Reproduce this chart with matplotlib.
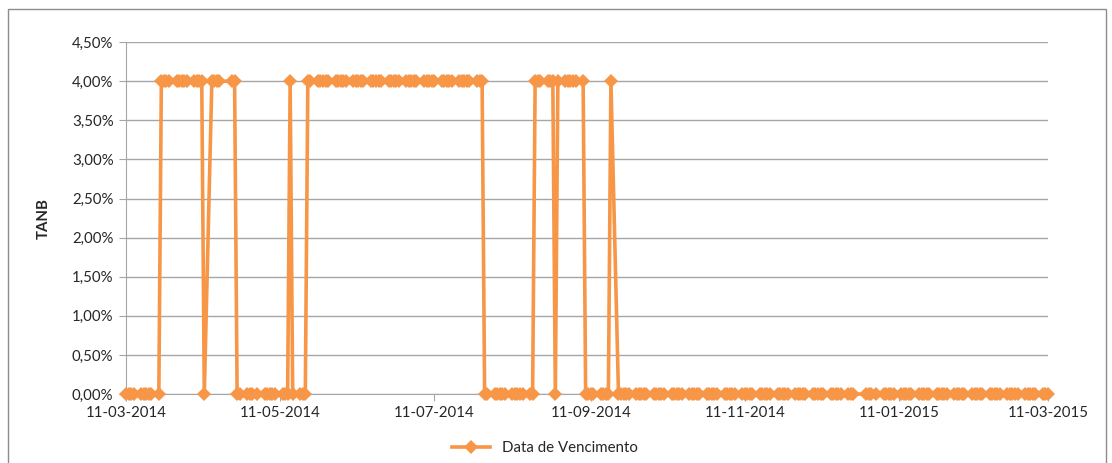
import matplotlib as mpl
mpl.use('Agg')
import matplotlib.pyplot as plt
import matplotlib.dates as mdates
from matplotlib.ticker import FuncFormatter, MultipleLocator
from matplotlib.patches import Rectangle
import pandas as pd

# periodo observado (dias uteis) e feriados sem registo
start_date = "2014-03-11"
end_date = "2015-03-11"
holidays = ["2014-04-18", "2014-04-21", "2014-05-01",
            "2014-12-25", "2014-12-26", "2015-01-01"]

# periodos em que a TANB era 4% (resto: 0%)
high_starts = ["2014-03-25", "2014-04-14", "2014-05-15", "2014-05-22",
               "2014-08-20", "2014-08-29", "2014-09-19"]
high_ends = ["2014-04-10", "2014-04-23", "2014-05-15", "2014-07-30",
             "2014-08-27", "2014-09-08", "2014-09-19"]
high_rate = 0.04
low_rate = 0.0

tick_dates = ["2014-03-11", "2014-05-11", "2014-07-11", "2014-09-11",
              "2014-11-11", "2015-01-11", "2015-03-11"]

dates = pd.bdate_range(start_date, end_date)
dates = dates[~dates.isin(pd.to_datetime(holidays))]
tanb = pd.Series(low_rate, index=dates)
for s, e in zip(high_starts, high_ends):
    tanb[s:e] = high_rate

plt.rcParams['font.family'] = ['Lato', 'DejaVu Sans']
orange = '#F79646'
grid_c = '#A6A6A6'
txt_c = '#262626'

fig = plt.figure(figsize=(11.12, 4.63), dpi=100)
ax = fig.add_axes([0.1133, 0.149, 0.829, 0.760])

ax.plot(tanb.index, tanb.values, color=orange, lw=2.6, marker='D',
        markersize=7.3, markeredgewidth=0, label='Data de Vencimento',
        clip_on=False, zorder=3)

ax.set_xlim(pd.Timestamp(start_date), pd.Timestamp(end_date))
ax.set_ylim(0, 0.045)
ax.yaxis.set_major_locator(MultipleLocator(0.005))
ax.yaxis.set_major_formatter(FuncFormatter(lambda v, p: f"{v*100:.2f}%".replace('.', ',')))
ax.set_xticks(pd.to_datetime(tick_dates))
ax.xaxis.set_major_formatter(mdates.DateFormatter('%d-%m-%Y'))

ax.grid(axis='y', color=grid_c, lw=1)
ax.set_axisbelow(True)
for sp in ['top', 'right']:
    ax.spines[sp].set_visible(False)
ax.spines['left'].set_color(grid_c)
ax.spines['bottom'].set_color(grid_c)
ax.tick_params(axis='both', colors=grid_c, labelcolor=txt_c, labelsize=10.8, length=5)
ax.tick_params(axis='y', pad=4)

ax.set_ylabel('TANB', fontsize=10.8, fontweight='bold', color=txt_c, labelpad=15)

fig.legend(loc='center', bbox_to_anchor=(0.49, 0.032), frameon=False,
           fontsize=10.8, handlelength=2.5, labelcolor=txt_c)

fig.patches.append(Rectangle((0.007, -0.02), 0.988, 1.0, transform=fig.transFigure,
                             fill=False, edgecolor='#8C8C8C', lw=1))

fig.savefig('out.png', dpi=100)
